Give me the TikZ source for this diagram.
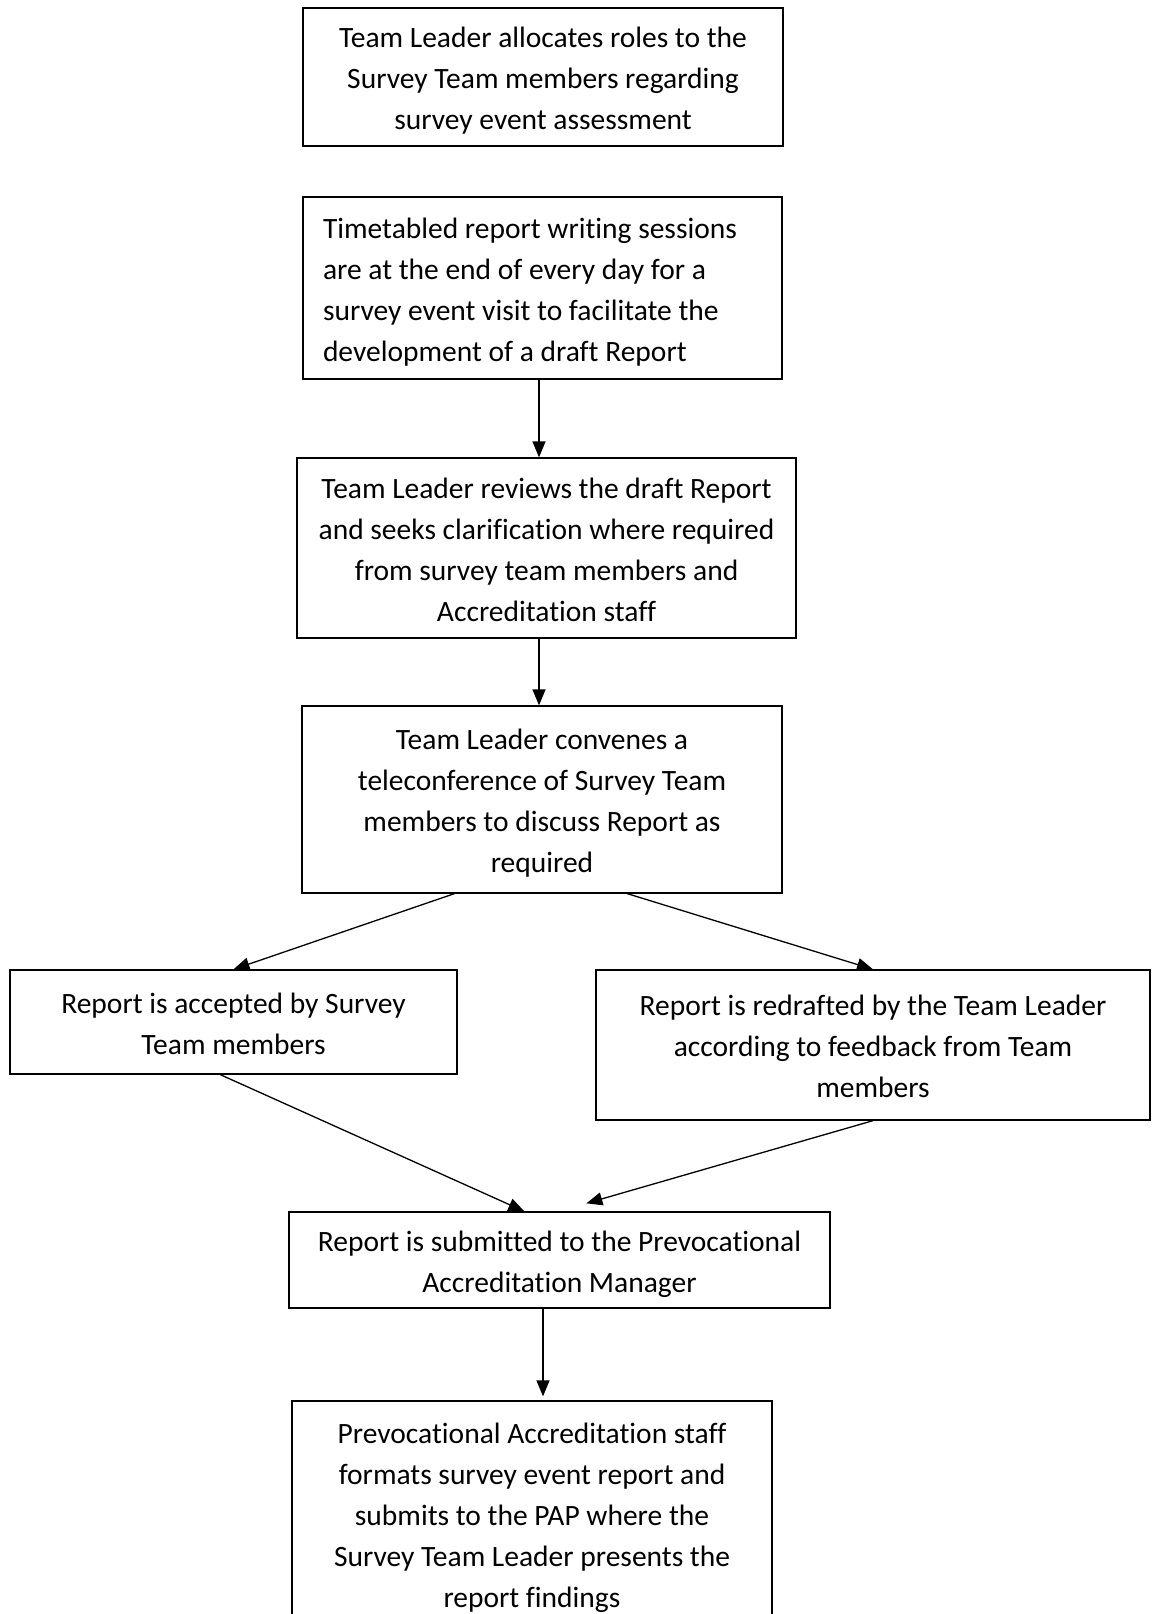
\documentclass[tikz,border=0pt]{standalone}
\usepackage{fontspec}
\setmainfont{Carlito}[Ligatures=NoCommon]
\usetikzlibrary{arrows.meta}
\newcommand{\fstrut}{\rule{0pt}{31pt}}
\newcommand{\lstrut}{\rule[-8pt]{0pt}{8pt}}
\begin{document}
\begin{tikzpicture}[x=1pt,y=-1pt,
  box/.style={draw=black, line width=1.3pt, rectangle, inner sep=0pt, align=center,
    font=\fontsize{29.5}{41}\selectfont},
  arr/.style={line width=1.3pt, -{Triangle[length=16pt,width=13pt]}}]
\useasboundingbox (0,0) rectangle (1154,1614);
\begin{scope}
\clip (0,0) rectangle (1154,1614);
\node[box, minimum width=480pt, minimum height=138pt] (b1) at (543,77)
  {\fstrut Team Leader allocates roles to the\\Survey Team members regarding\\survey event assessment\lstrut};
\node[box, minimum width=479pt, minimum height=182pt, inner xsep=20pt, text width=439pt, align=flush left] (b2) at (542.5,288)
  {\fstrut Timetabled report writing sessions\\are at the end of every day for a\\survey event visit to facilitate the\\development of a draft Report\lstrut};
\node[box, minimum width=499pt, minimum height=180pt] (b3) at (546.5,548)
  {\fstrut Team Leader reviews the draft Report\\and seeks clarification where required\\from survey team members and\\Accreditation staff\lstrut};
\node[box, minimum width=480pt, minimum height=187pt] (b4) at (542,799.5)
  {\fstrut Team Leader convenes a\\teleconference of Survey Team\\members to discuss Report as\\required\lstrut};
\node[box, minimum width=447pt, minimum height=104pt] (b5) at (233.5,1022)
  {\fstrut Report is accepted by Survey\\Team members\lstrut};
\node[box, minimum width=554pt, minimum height=150pt] (b6) at (873,1045)
  {\fstrut Report is redrafted by the Team Leader\\according to feedback from Team\\members\lstrut};
\node[box, minimum width=541pt, minimum height=96pt] (b7) at (559.5,1260)
  {\fstrut Report is submitted to the Prevocational\\Accreditation Manager\lstrut};
\node[box, minimum width=480pt, minimum height=225pt] (b8) at (532,1513.5)
  {\fstrut Prevocational Accreditation staff\\formats survey event report and\\submits to the PAP where the\\Survey Team Leader presents the\\report findings\lstrut};

\draw[arr] ([xshift=-3.5pt]b2.south) -- ([xshift=-3.5pt]b2.south |- b3.north);
\draw[arr] ([xshift=-7.5pt]b3.south) -- ([xshift=-7.5pt]b3.south |- b4.north);
\draw[arr] ([xshift=153pt]b4.south west) -- (b5.north);
\draw[arr] ([xshift=326pt]b4.south west) -- (b6.north);
\draw[arr] ([xshift=211pt]b5.south west) -- ([xshift=236pt]b7.north west);
\draw[arr] (b6.south) -- ([xshift=298pt,yshift=8pt]b7.north west);
\draw[arr, shorten >=4pt] ([xshift=-16.5pt]b7.south) -- ([xshift=-16.5pt]b7.south |- b8.north);
\end{scope}
\end{tikzpicture}
\end{document}
